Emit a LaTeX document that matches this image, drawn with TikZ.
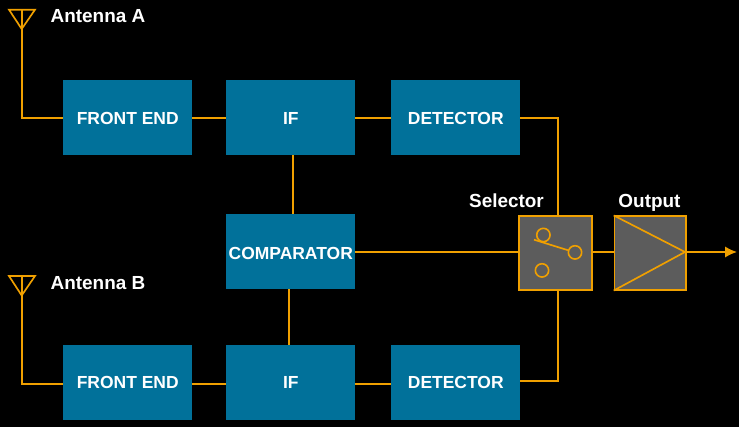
\documentclass[tikz,border=0pt]{standalone}
\usepackage{fontspec}
\setmainfont{Liberation Sans}
\usetikzlibrary{arrows.meta}
\definecolor{wire}{HTML}{F0A000}
\definecolor{blk}{HTML}{01719A}
\definecolor{gry}{HTML}{5C5C5C}
\tikzset{
  x=0.75pt,y=-0.75pt,
  conn/.style={draw=wire,line width=1.25pt},
  blockbox/.style={fill=blk,minimum width=96.75pt,minimum height=56.25pt,inner sep=0,text=white,font=\fontsize{13.1}{15}\selectfont\bfseries,anchor=north west,text depth=0pt},
  toprow/.style={text height=10.6pt},
  midrow/.style={text height=11.6pt},
  botrow/.style={text height=7.9pt},
  graybox/.style={fill=gry,draw=wire,line width=1.3pt,inner sep=0,anchor=center},
  lbl/.style={text=white,font=\fontsize{14.2}{16}\selectfont\bfseries,inner sep=0,anchor=base},
  contact/.style={circle,draw=wire,line width=1.2pt,minimum size=10pt,inner sep=0},
  ant/.style={draw=wire,line width=1.25pt,line join=miter}
}
\begin{document}
\begin{tikzpicture}
\useasboundingbox[fill=black] (0,0) rectangle (739,427);
\node[blockbox,toprow] (fa) at (63,80) {FRONT END};
\node[blockbox,toprow] (ia) at (226,80) {IF};
\node[blockbox,toprow] (da) at (391,80) {DETECTOR};
\node[blockbox,midrow] (cmp) at (226,214) {COMPARATOR};
\node[blockbox,botrow] (fb) at (63,345) {FRONT END};
\node[blockbox,botrow] (ib) at (226,345) {IF};
\node[blockbox,botrow] (db) at (391,345) {DETECTOR};
\node[graybox,minimum width=55pt,minimum height=55pt] (sel) at (555.5,253) {};
\node[graybox,minimum width=53.7pt,minimum height=55pt] (out) at (650.4,253) {};
\node[lbl] (la) at (98,22.9) {Antenna A};
\node[lbl] (lb) at (98,289.9) {Antenna B};
\node[lbl] (ls) at (506.5,208) {Selector};
\node[lbl] (lo) at (649.5,208) {Output};
% antennas
\coordinate (ta) at (21.7,29);
\coordinate (tbb) at (21.7,295.5);
\coordinate (a1) at (9,9.7);
\coordinate (a2) at (35,9.7);
\coordinate (a3) at (21.7,9.7);
\coordinate (b1) at (9,276);
\coordinate (b2) at (35,276);
\coordinate (b3) at (21.7,276);
\draw[ant] (a1) -- (a2) -- (ta) -- cycle;
\draw[ant] (a3) -- (ta);
\draw[ant] (b1) -- (b2) -- (tbb) -- cycle;
\draw[ant] (b3) -- (tbb);
\coordinate (wa) at (63,117.7);
\coordinate (wb) at (63,383.7);
\draw[conn] (ta) |- (wa);
\draw[conn] (tbb) |- (wb);
\coordinate (fae) at (192,117.7);
\coordinate (iaw) at (226,117.7);
\coordinate (iae) at (355,117.7);
\coordinate (daw) at (391,117.7);
\coordinate (dae) at (520,117.7);
\draw[conn] (fae) -- (iaw);
\draw[conn] (iae) -- (daw);
\coordinate (fbe) at (192,383.7);
\coordinate (ibw) at (226,383.7);
\draw[conn] (fbe) -- (ibw);
\coordinate (ibe) at (355,383.7);
\coordinate (dbw) at (391,383.7);
\draw[conn] (ibe) -- (dbw);
\coordinate (stop) at (558,216);
\coordinate (sbot) at (558,291);
\coordinate (dbe) at (520,381);
\draw[conn] (dae) -| (stop);
\draw[conn] (dbe) -| (sbot);
\coordinate (ca) at (293,155);
\coordinate (cb) at (293,214);
\coordinate (cc) at (289,289);
\coordinate (cd) at (289,345);
\draw[conn] (ca) -- (cb);
\draw[conn] (cc) -- (cd);
\coordinate (ce) at (355,252);
\coordinate (se) at (518,252);
\draw[conn] (ce) -- (se);
\coordinate (sr) at (593,252);
\coordinate (ol) at (614,252);
\draw[conn] (sr) -- (ol);
% selector
\node[contact] (c1) at (543.4,235) {};
\node[contact] (c2) at (542,270.4) {};
\node[contact] (c3) at (575,252.4) {};
\coordinate (pv) at (534,239.7);
\draw[conn] (pv) -- (c3);
% output
\coordinate (tip) at (685,252);
\draw[conn] (out.north west) -- (tip) -- (out.south west);
\coordinate (arrowend) at (737,252);
\draw[conn,-{Latex[length=9pt,width=8.5pt]}] (tip) -- (arrowend);
\end{tikzpicture}
\end{document}
